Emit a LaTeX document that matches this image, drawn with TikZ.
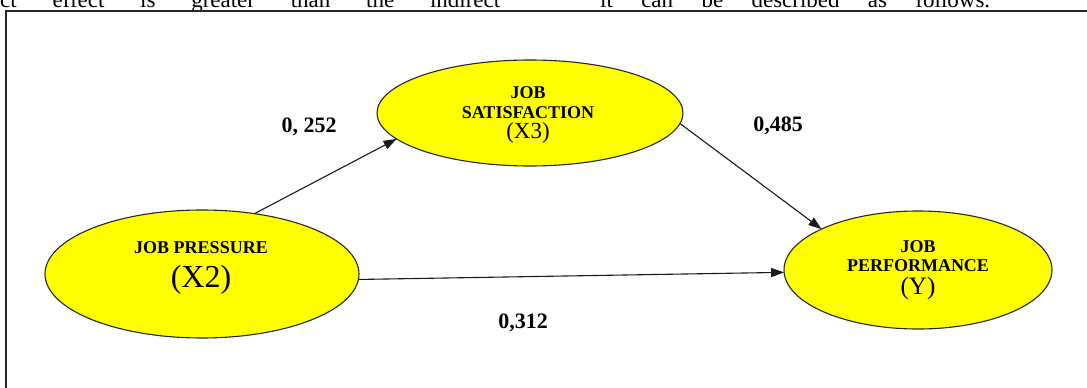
\documentclass[tikz,border=0pt]{standalone}
\usepackage{fontspec}
\setmainfont{Liberation Serif}
\usetikzlibrary{shapes.geometric,arrows.meta}
\definecolor{nodeyellow}{RGB}{255,255,0}
\begin{document}
\begin{tikzpicture}[x=1pt,y=-1pt,
  latent/.style={ellipse,draw=black!85,line width=1.1pt,fill=nodeyellow,inner sep=0pt,outer sep=0pt},
  link/.style={line width=1.1pt,draw=black!90,-{Triangle[length=13pt,width=9pt]}},
  coef/.style={font=\fontsize{22}{22}\selectfont\bfseries,inner sep=0pt},
  captxt/.style={font=\fontsize{18}{18}\selectfont\bfseries,inner sep=0pt},
  vartxt/.style={inner sep=0pt},
  frameline/.style={line width=1.4pt,draw=black!85},
  pagetxt/.style={font=\fontsize{23}{23}\selectfont,inner sep=0pt,anchor=base west}
]
\useasboundingbox (0,0) rectangle (1087,388);
\begin{scope}
\clip (0,0) rectangle (1087,388);
\node[pagetxt] (t1) at (0,7) {\makebox[500pt][s]{ct effect is greater than the indirect}};
\node[pagetxt] (t2) at (600,7) {\makebox[390pt][s]{it can be described as follows.}};
\coordinate (fa) at (6,400);
\coordinate (fb) at (6,11);
\coordinate (fc) at (1100,11);
\draw[frameline] (fa) -- (fb) -- (fc);
\end{scope}

\node[latent,minimum width=306pt,minimum height=106pt] (sa) at (530,113) {};
\node[latent,minimum width=314pt,minimum height=128pt] (pr) at (202,274) {};
\node[latent,minimum width=268pt,minimum height=118pt] (pf) at (918,270) {};

\node[captxt] (sa1) at (528,93) {JOB};
\node[captxt] (sa2) at (528,113) {SATISFACTION};
\node[vartxt,font=\fontsize{23}{23}\selectfont] (sa3) at (528,133) {(X3)};

\node[captxt] (pr1) at (201,248) {JOB PRESSURE};
\node[vartxt,font=\fontsize{32}{32}\selectfont] (pr2) at (201,280) {(X2)};

\node[captxt] (pf1) at (918,247) {JOB};
\node[captxt] (pf2) at (918,266) {PERFORMANCE};
\node[vartxt,font=\fontsize{25}{25}\selectfont] (pf3) at (918,288) {(Y)};

\draw[link] (pr.49) -- (sa.191);
\draw[link] (sa.-4) -- (pf.157);
\draw[link] (pr.-2) -- (pf.181);

\node[coef] (c1) at (309,127) {0, 252};
\node[coef] (c2) at (778,126) {0,485};
\node[coef] (c3) at (523,323) {0,312};
\end{tikzpicture}
\end{document}
